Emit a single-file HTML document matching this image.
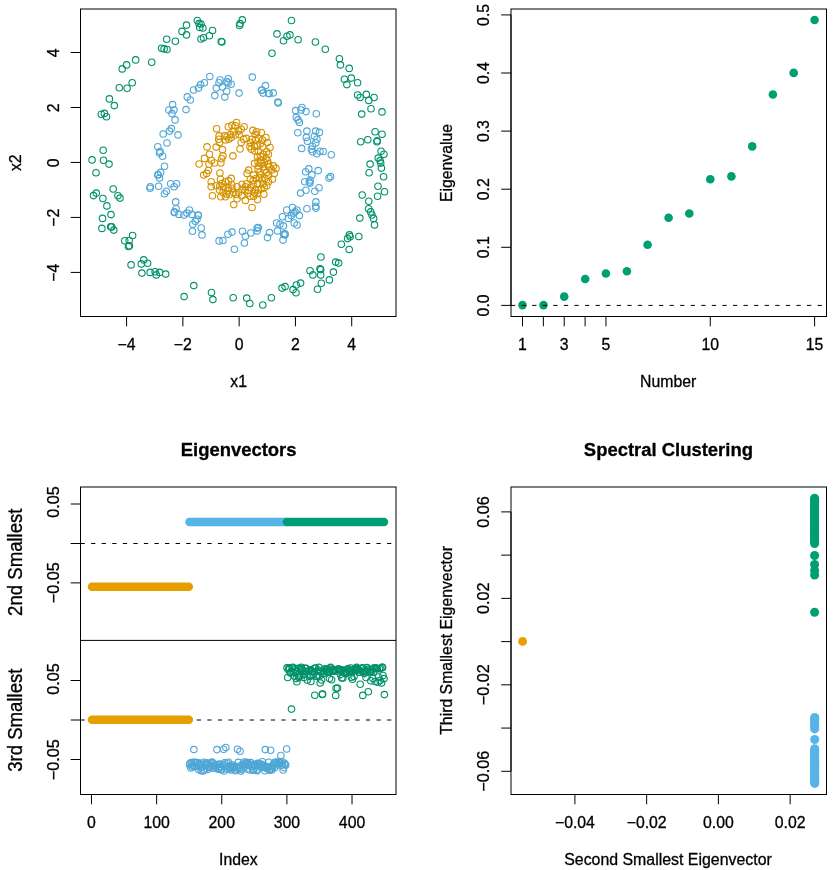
<!DOCTYPE html>
<html lang="en"><head><meta charset="utf-8"><title>Spectral Clustering</title>
<style>
html,body{margin:0;padding:0;background:#fff;}
svg{display:block;will-change:transform;font-family:"Liberation Sans",Arial,Helvetica,sans-serif;fill:#000;}
text{stroke:#000;stroke-width:0.3px;}
.ax{stroke:#000;stroke-width:1;}
.dash{stroke:#000;stroke-width:1;stroke-dasharray:4.3 6.27;}
</style></head><body>
<svg width="839" height="870" viewBox="0 0 839 870">
<rect x="0" y="0" width="839" height="870" fill="#fff"/>
<g id="p1">
<g fill="none" stroke-width="1.1">
<g stroke="#00916A">
<circle cx="166.7" cy="39.3" r="3.25"/>
<circle cx="175.4" cy="41.2" r="3.25"/>
<circle cx="182.0" cy="31.4" r="3.25"/>
<circle cx="161.6" cy="48.3" r="3.25"/>
<circle cx="164.1" cy="48.9" r="3.25"/>
<circle cx="167.0" cy="49.5" r="3.25"/>
<circle cx="135.7" cy="59.9" r="3.25"/>
<circle cx="151.7" cy="62.2" r="3.25"/>
<circle cx="126.6" cy="64.9" r="3.25"/>
<circle cx="122.2" cy="68.9" r="3.25"/>
<circle cx="132.2" cy="82.8" r="3.25"/>
<circle cx="119.3" cy="87.8" r="3.25"/>
<circle cx="127.1" cy="88.2" r="3.25"/>
<circle cx="109.4" cy="98.9" r="3.25"/>
<circle cx="114.3" cy="105.6" r="3.25"/>
<circle cx="186.5" cy="25.1" r="3.25"/>
<circle cx="186.5" cy="34.9" r="3.25"/>
<circle cx="197.3" cy="20.5" r="3.25"/>
<circle cx="199.0" cy="23.6" r="3.25"/>
<circle cx="201.0" cy="24.0" r="3.25"/>
<circle cx="199.8" cy="27.4" r="3.25"/>
<circle cx="202.9" cy="28.0" r="3.25"/>
<circle cx="212.5" cy="30.5" r="3.25"/>
<circle cx="209.4" cy="35.8" r="3.25"/>
<circle cx="201.0" cy="39.0" r="3.25"/>
<circle cx="203.5" cy="37.8" r="3.25"/>
<circle cx="221.3" cy="41.5" r="3.25"/>
<circle cx="221.9" cy="42.0" r="3.25"/>
<circle cx="242.3" cy="19.9" r="3.25"/>
<circle cx="240.1" cy="23.6" r="3.25"/>
<circle cx="239.6" cy="25.5" r="3.25"/>
<circle cx="277.0" cy="33.9" r="3.25"/>
<circle cx="272.0" cy="53.3" r="3.25"/>
<circle cx="283.5" cy="40.8" r="3.25"/>
<circle cx="287.0" cy="36.2" r="3.25"/>
<circle cx="289.9" cy="34.9" r="3.25"/>
<circle cx="291.5" cy="20.5" r="3.25"/>
<circle cx="298.1" cy="39.7" r="3.25"/>
<circle cx="315.4" cy="42.0" r="3.25"/>
<circle cx="325.3" cy="49.3" r="3.25"/>
<circle cx="339.4" cy="58.7" r="3.25"/>
<circle cx="340.4" cy="64.9" r="3.25"/>
<circle cx="349.2" cy="68.4" r="3.25"/>
<circle cx="344.4" cy="79.3" r="3.25"/>
<circle cx="351.3" cy="78.1" r="3.25"/>
<circle cx="346.9" cy="84.6" r="3.25"/>
<circle cx="357.6" cy="82.8" r="3.25"/>
<circle cx="357.6" cy="95.0" r="3.25"/>
<circle cx="360.1" cy="97.5" r="3.25"/>
<circle cx="366.3" cy="94.4" r="3.25"/>
<circle cx="368.8" cy="100.4" r="3.25"/>
<circle cx="374.1" cy="97.5" r="3.25"/>
<circle cx="371.0" cy="108.7" r="3.25"/>
<circle cx="382.0" cy="111.9" r="3.25"/>
<circle cx="361.7" cy="114.1" r="3.25"/>
<circle cx="101.3" cy="114.3" r="3.25"/>
<circle cx="104.4" cy="113.4" r="3.25"/>
<circle cx="106.5" cy="116.8" r="3.25"/>
<circle cx="103.2" cy="150.3" r="3.25"/>
<circle cx="92.1" cy="159.9" r="3.25"/>
<circle cx="103.5" cy="160.2" r="3.25"/>
<circle cx="109.0" cy="164.1" r="3.25"/>
<circle cx="96.0" cy="172.8" r="3.25"/>
<circle cx="113.2" cy="189.0" r="3.25"/>
<circle cx="96.3" cy="193.1" r="3.25"/>
<circle cx="93.5" cy="195.6" r="3.25"/>
<circle cx="102.9" cy="198.5" r="3.25"/>
<circle cx="117.9" cy="195.8" r="3.25"/>
<circle cx="120.0" cy="198.1" r="3.25"/>
<circle cx="106.9" cy="205.9" r="3.25"/>
<circle cx="111.0" cy="214.6" r="3.25"/>
<circle cx="102.5" cy="218.4" r="3.25"/>
<circle cx="375.1" cy="131.8" r="3.25"/>
<circle cx="382.0" cy="134.3" r="3.25"/>
<circle cx="360.7" cy="141.8" r="3.25"/>
<circle cx="367.8" cy="139.7" r="3.25"/>
<circle cx="377.0" cy="141.8" r="3.25"/>
<circle cx="377.2" cy="140.8" r="3.25"/>
<circle cx="381.1" cy="151.2" r="3.25"/>
<circle cx="383.9" cy="154.3" r="3.25"/>
<circle cx="378.2" cy="158.1" r="3.25"/>
<circle cx="380.1" cy="160.6" r="3.25"/>
<circle cx="380.7" cy="163.1" r="3.25"/>
<circle cx="381.4" cy="168.1" r="3.25"/>
<circle cx="370.1" cy="164.1" r="3.25"/>
<circle cx="369.1" cy="172.8" r="3.25"/>
<circle cx="383.6" cy="176.8" r="3.25"/>
<circle cx="378.0" cy="186.2" r="3.25"/>
<circle cx="384.5" cy="191.8" r="3.25"/>
<circle cx="377.6" cy="196.2" r="3.25"/>
<circle cx="362.2" cy="195.0" r="3.25"/>
<circle cx="368.8" cy="201.2" r="3.25"/>
<circle cx="368.6" cy="208.7" r="3.25"/>
<circle cx="370.7" cy="211.9" r="3.25"/>
<circle cx="372.0" cy="215.0" r="3.25"/>
<circle cx="359.8" cy="218.1" r="3.25"/>
<circle cx="373.6" cy="218.4" r="3.25"/>
<circle cx="101.9" cy="228.4" r="3.25"/>
<circle cx="110.7" cy="226.8" r="3.25"/>
<circle cx="113.8" cy="230.1" r="3.25"/>
<circle cx="132.6" cy="235.5" r="3.25"/>
<circle cx="124.7" cy="240.8" r="3.25"/>
<circle cx="129.2" cy="240.5" r="3.25"/>
<circle cx="129.4" cy="245.8" r="3.25"/>
<circle cx="143.8" cy="259.9" r="3.25"/>
<circle cx="141.3" cy="263.9" r="3.25"/>
<circle cx="147.6" cy="263.3" r="3.25"/>
<circle cx="131.1" cy="264.9" r="3.25"/>
<circle cx="141.9" cy="273.1" r="3.25"/>
<circle cx="150.1" cy="272.4" r="3.25"/>
<circle cx="155.1" cy="271.8" r="3.25"/>
<circle cx="159.5" cy="272.4" r="3.25"/>
<circle cx="156.3" cy="274.9" r="3.25"/>
<circle cx="165.7" cy="274.1" r="3.25"/>
<circle cx="184.1" cy="296.6" r="3.25"/>
<circle cx="193.8" cy="285.6" r="3.25"/>
<circle cx="211.5" cy="292.5" r="3.25"/>
<circle cx="212.9" cy="299.6" r="3.25"/>
<circle cx="233.2" cy="297.7" r="3.25"/>
<circle cx="246.7" cy="298.1" r="3.25"/>
<circle cx="249.8" cy="303.5" r="3.25"/>
<circle cx="262.8" cy="305.0" r="3.25"/>
<circle cx="271.4" cy="297.8" r="3.25"/>
<circle cx="282.0" cy="288.1" r="3.25"/>
<circle cx="285.1" cy="286.6" r="3.25"/>
<circle cx="374.5" cy="224.9" r="3.25"/>
<circle cx="358.8" cy="236.5" r="3.25"/>
<circle cx="349.4" cy="234.9" r="3.25"/>
<circle cx="350.1" cy="236.8" r="3.25"/>
<circle cx="347.6" cy="238.6" r="3.25"/>
<circle cx="341.3" cy="244.3" r="3.25"/>
<circle cx="349.2" cy="249.5" r="3.25"/>
<circle cx="320.9" cy="257.0" r="3.25"/>
<circle cx="335.7" cy="262.1" r="3.25"/>
<circle cx="338.6" cy="263.1" r="3.25"/>
<circle cx="310.0" cy="270.8" r="3.25"/>
<circle cx="312.9" cy="274.9" r="3.25"/>
<circle cx="320.0" cy="268.7" r="3.25"/>
<circle cx="320.7" cy="269.6" r="3.25"/>
<circle cx="320.7" cy="274.9" r="3.25"/>
<circle cx="333.4" cy="272.1" r="3.25"/>
<circle cx="329.4" cy="279.9" r="3.25"/>
<circle cx="321.3" cy="283.3" r="3.25"/>
<circle cx="317.5" cy="289.3" r="3.25"/>
<circle cx="300.6" cy="283.1" r="3.25"/>
<circle cx="296.3" cy="285.0" r="3.25"/>
<circle cx="293.1" cy="289.6" r="3.25"/>
<circle cx="296.0" cy="292.8" r="3.25"/>
<circle cx="128.5" cy="246.5" r="3.25"/>
<circle cx="111.7" cy="226.9" r="3.25"/>
</g>
<g stroke="#4FA6D6">
<circle cx="172.6" cy="104.6" r="3.25"/>
<circle cx="168.9" cy="110.0" r="3.25"/>
<circle cx="173.9" cy="110.0" r="3.25"/>
<circle cx="209.8" cy="76.5" r="3.25"/>
<circle cx="204.4" cy="82.8" r="3.25"/>
<circle cx="200.6" cy="84.6" r="3.25"/>
<circle cx="198.5" cy="88.1" r="3.25"/>
<circle cx="193.5" cy="90.0" r="3.25"/>
<circle cx="187.3" cy="96.9" r="3.25"/>
<circle cx="190.3" cy="100.0" r="3.25"/>
<circle cx="186.0" cy="109.6" r="3.25"/>
<circle cx="220.0" cy="80.0" r="3.25"/>
<circle cx="219.0" cy="82.8" r="3.25"/>
<circle cx="228.2" cy="78.7" r="3.25"/>
<circle cx="226.9" cy="81.8" r="3.25"/>
<circle cx="231.1" cy="84.3" r="3.25"/>
<circle cx="222.5" cy="87.1" r="3.25"/>
<circle cx="216.3" cy="88.1" r="3.25"/>
<circle cx="226.7" cy="91.2" r="3.25"/>
<circle cx="214.8" cy="95.6" r="3.25"/>
<circle cx="224.8" cy="97.1" r="3.25"/>
<circle cx="239.1" cy="93.1" r="3.25"/>
<circle cx="252.3" cy="77.1" r="3.25"/>
<circle cx="265.5" cy="85.6" r="3.25"/>
<circle cx="262.0" cy="90.0" r="3.25"/>
<circle cx="263.2" cy="93.1" r="3.25"/>
<circle cx="269.1" cy="93.7" r="3.25"/>
<circle cx="273.2" cy="92.9" r="3.25"/>
<circle cx="277.9" cy="102.1" r="3.25"/>
<circle cx="278.2" cy="102.9" r="3.25"/>
<circle cx="301.9" cy="107.5" r="3.25"/>
<circle cx="295.6" cy="110.6" r="3.25"/>
<circle cx="306.0" cy="111.6" r="3.25"/>
<circle cx="316.3" cy="113.8" r="3.25"/>
<circle cx="301.0" cy="110.0" r="3.25"/>
<circle cx="172.0" cy="113.6" r="3.25"/>
<circle cx="175.1" cy="119.9" r="3.25"/>
<circle cx="171.4" cy="128.6" r="3.25"/>
<circle cx="169.5" cy="131.1" r="3.25"/>
<circle cx="163.2" cy="134.0" r="3.25"/>
<circle cx="178.0" cy="134.9" r="3.25"/>
<circle cx="167.0" cy="143.0" r="3.25"/>
<circle cx="157.8" cy="146.8" r="3.25"/>
<circle cx="159.5" cy="153.0" r="3.25"/>
<circle cx="162.6" cy="156.2" r="3.25"/>
<circle cx="164.5" cy="166.2" r="3.25"/>
<circle cx="160.7" cy="172.4" r="3.25"/>
<circle cx="158.2" cy="174.9" r="3.25"/>
<circle cx="159.5" cy="178.1" r="3.25"/>
<circle cx="150.3" cy="186.8" r="3.25"/>
<circle cx="158.6" cy="186.2" r="3.25"/>
<circle cx="170.7" cy="183.7" r="3.25"/>
<circle cx="176.6" cy="183.7" r="3.25"/>
<circle cx="174.1" cy="186.8" r="3.25"/>
<circle cx="166.4" cy="191.2" r="3.25"/>
<circle cx="164.5" cy="193.7" r="3.25"/>
<circle cx="175.7" cy="201.9" r="3.25"/>
<circle cx="176.1" cy="208.7" r="3.25"/>
<circle cx="174.5" cy="211.9" r="3.25"/>
<circle cx="178.9" cy="214.4" r="3.25"/>
<circle cx="183.9" cy="215.0" r="3.25"/>
<circle cx="296.3" cy="117.4" r="3.25"/>
<circle cx="298.1" cy="119.9" r="3.25"/>
<circle cx="299.4" cy="122.4" r="3.25"/>
<circle cx="297.8" cy="132.8" r="3.25"/>
<circle cx="306.9" cy="131.1" r="3.25"/>
<circle cx="315.7" cy="131.1" r="3.25"/>
<circle cx="319.4" cy="132.4" r="3.25"/>
<circle cx="306.3" cy="137.4" r="3.25"/>
<circle cx="307.5" cy="141.2" r="3.25"/>
<circle cx="314.4" cy="136.2" r="3.25"/>
<circle cx="316.9" cy="139.3" r="3.25"/>
<circle cx="315.7" cy="143.0" r="3.25"/>
<circle cx="312.5" cy="146.2" r="3.25"/>
<circle cx="301.6" cy="148.4" r="3.25"/>
<circle cx="311.3" cy="149.3" r="3.25"/>
<circle cx="312.5" cy="151.8" r="3.25"/>
<circle cx="316.9" cy="153.7" r="3.25"/>
<circle cx="320.0" cy="151.2" r="3.25"/>
<circle cx="323.2" cy="151.5" r="3.25"/>
<circle cx="331.3" cy="154.7" r="3.25"/>
<circle cx="308.8" cy="168.9" r="3.25"/>
<circle cx="305.6" cy="171.8" r="3.25"/>
<circle cx="318.2" cy="170.6" r="3.25"/>
<circle cx="311.9" cy="174.9" r="3.25"/>
<circle cx="329.0" cy="178.1" r="3.25"/>
<circle cx="310.0" cy="180.0" r="3.25"/>
<circle cx="304.8" cy="181.8" r="3.25"/>
<circle cx="310.0" cy="183.1" r="3.25"/>
<circle cx="319.0" cy="187.7" r="3.25"/>
<circle cx="306.0" cy="190.2" r="3.25"/>
<circle cx="314.8" cy="191.2" r="3.25"/>
<circle cx="300.6" cy="193.1" r="3.25"/>
<circle cx="315.9" cy="201.9" r="3.25"/>
<circle cx="315.7" cy="206.2" r="3.25"/>
<circle cx="315.9" cy="208.1" r="3.25"/>
<circle cx="306.9" cy="208.7" r="3.25"/>
<circle cx="292.5" cy="207.5" r="3.25"/>
<circle cx="296.9" cy="210.0" r="3.25"/>
<circle cx="293.8" cy="213.1" r="3.25"/>
<circle cx="299.4" cy="215.6" r="3.25"/>
<circle cx="291.3" cy="215.6" r="3.25"/>
<circle cx="189.4" cy="210.0" r="3.25"/>
<circle cx="186.9" cy="213.1" r="3.25"/>
<circle cx="191.9" cy="214.4" r="3.25"/>
<circle cx="198.1" cy="215.0" r="3.25"/>
<circle cx="286.7" cy="210.0" r="3.25"/>
<circle cx="288.4" cy="218.4" r="3.25"/>
<circle cx="282.5" cy="216.7" r="3.25"/>
<circle cx="294.2" cy="223.0" r="3.25"/>
<circle cx="297.1" cy="225.0" r="3.25"/>
<circle cx="276.7" cy="223.0" r="3.25"/>
<circle cx="280.0" cy="224.2" r="3.25"/>
<circle cx="283.4" cy="225.9" r="3.25"/>
<circle cx="277.5" cy="230.9" r="3.25"/>
<circle cx="285.0" cy="233.8" r="3.25"/>
<circle cx="269.6" cy="232.6" r="3.25"/>
<circle cx="267.5" cy="237.6" r="3.25"/>
<circle cx="283.0" cy="240.1" r="3.25"/>
<circle cx="258.3" cy="227.5" r="3.25"/>
<circle cx="257.1" cy="230.9" r="3.25"/>
<circle cx="250.8" cy="233.0" r="3.25"/>
<circle cx="198.3" cy="215.5" r="3.25"/>
<circle cx="197.0" cy="219.2" r="3.25"/>
<circle cx="195.3" cy="221.3" r="3.25"/>
<circle cx="192.8" cy="224.2" r="3.25"/>
<circle cx="201.2" cy="228.0" r="3.25"/>
<circle cx="192.4" cy="231.3" r="3.25"/>
<circle cx="202.0" cy="234.9" r="3.25"/>
<circle cx="219.1" cy="240.9" r="3.25"/>
<circle cx="222.9" cy="240.5" r="3.25"/>
<circle cx="227.9" cy="234.2" r="3.25"/>
<circle cx="232.0" cy="232.1" r="3.25"/>
<circle cx="242.5" cy="231.3" r="3.25"/>
<circle cx="245.4" cy="236.3" r="3.25"/>
<circle cx="244.4" cy="243.0" r="3.25"/>
<circle cx="234.4" cy="249.2" r="3.25"/>
<circle cx="157.8" cy="174.7" r="3.25"/>
<circle cx="174.3" cy="212.5" r="3.25"/>
<circle cx="309.3" cy="182.1" r="3.25"/>
<circle cx="295.1" cy="211.7" r="3.25"/>
<circle cx="160.1" cy="151.6" r="3.25"/>
<circle cx="257.1" cy="228.1" r="3.25"/>
<circle cx="261.4" cy="90.3" r="3.25"/>
<circle cx="228.1" cy="83.0" r="3.25"/>
<circle cx="284.9" cy="234.9" r="3.25"/>
<circle cx="330.5" cy="176.6" r="3.25"/>
<circle cx="150.0" cy="188.2" r="3.25"/>
<circle cx="268.6" cy="93.2" r="3.25"/>
<circle cx="283.7" cy="234.2" r="3.25"/>
</g>
<g stroke="#D49200">
<circle cx="216.6" cy="128.8" r="3.25"/>
<circle cx="207.0" cy="146.9" r="3.25"/>
<circle cx="199.1" cy="164.0" r="3.25"/>
<circle cx="204.5" cy="158.4" r="3.25"/>
<circle cx="209.5" cy="154.2" r="3.25"/>
<circle cx="211.6" cy="160.5" r="3.25"/>
<circle cx="209.1" cy="164.2" r="3.25"/>
<circle cx="214.5" cy="163.0" r="3.25"/>
<circle cx="208.3" cy="170.5" r="3.25"/>
<circle cx="203.7" cy="175.1" r="3.25"/>
<circle cx="206.6" cy="173.4" r="3.25"/>
<circle cx="219.9" cy="173.0" r="3.25"/>
<circle cx="220.4" cy="179.2" r="3.25"/>
<circle cx="211.2" cy="181.7" r="3.25"/>
<circle cx="232.9" cy="155.9" r="3.25"/>
<circle cx="240.0" cy="149.0" r="3.25"/>
<circle cx="222.5" cy="149.6" r="3.25"/>
<circle cx="216.2" cy="147.1" r="3.25"/>
<circle cx="220.8" cy="163.0" r="3.25"/>
<circle cx="221.6" cy="158.8" r="3.25"/>
<circle cx="222.9" cy="155.9" r="3.25"/>
<circle cx="219.1" cy="135.9" r="3.25"/>
<circle cx="218.7" cy="139.2" r="3.25"/>
<circle cx="219.5" cy="142.5" r="3.25"/>
<circle cx="228.3" cy="126.7" r="3.25"/>
<circle cx="232.0" cy="125.4" r="3.25"/>
<circle cx="236.6" cy="122.5" r="3.25"/>
<circle cx="235.4" cy="125.8" r="3.25"/>
<circle cx="244.1" cy="126.7" r="3.25"/>
<circle cx="241.2" cy="129.2" r="3.25"/>
<circle cx="238.3" cy="130.9" r="3.25"/>
<circle cx="233.7" cy="131.7" r="3.25"/>
<circle cx="230.4" cy="134.6" r="3.25"/>
<circle cx="227.0" cy="136.7" r="3.25"/>
<circle cx="228.7" cy="139.2" r="3.25"/>
<circle cx="225.4" cy="140.0" r="3.25"/>
<circle cx="231.2" cy="137.5" r="3.25"/>
<circle cx="224.5" cy="135.9" r="3.25"/>
<circle cx="235.4" cy="135.0" r="3.25"/>
<circle cx="239.1" cy="134.6" r="3.25"/>
<circle cx="252.9" cy="130.4" r="3.25"/>
<circle cx="243.7" cy="139.2" r="3.25"/>
<circle cx="241.2" cy="142.5" r="3.25"/>
<circle cx="246.2" cy="138.4" r="3.25"/>
<circle cx="250.4" cy="142.5" r="3.25"/>
<circle cx="252.1" cy="139.2" r="3.25"/>
<circle cx="255.4" cy="140.0" r="3.25"/>
<circle cx="251.2" cy="149.2" r="3.25"/>
<circle cx="254.6" cy="150.9" r="3.25"/>
<circle cx="254.6" cy="163.4" r="3.25"/>
<circle cx="248.7" cy="170.1" r="3.25"/>
<circle cx="247.1" cy="173.4" r="3.25"/>
<circle cx="253.7" cy="175.1" r="3.25"/>
<circle cx="250.4" cy="179.2" r="3.25"/>
<circle cx="231.2" cy="178.4" r="3.25"/>
<circle cx="228.7" cy="180.9" r="3.25"/>
<circle cx="225.4" cy="181.7" r="3.25"/>
<circle cx="242.1" cy="184.2" r="3.25"/>
<circle cx="261.3" cy="132.5" r="3.25"/>
<circle cx="256.7" cy="131.7" r="3.25"/>
<circle cx="265.9" cy="137.5" r="3.25"/>
<circle cx="270.0" cy="147.5" r="3.25"/>
<circle cx="267.5" cy="142.5" r="3.25"/>
<circle cx="262.5" cy="140.0" r="3.25"/>
<circle cx="258.3" cy="138.4" r="3.25"/>
<circle cx="257.5" cy="145.9" r="3.25"/>
<circle cx="262.5" cy="146.7" r="3.25"/>
<circle cx="266.7" cy="151.7" r="3.25"/>
<circle cx="258.3" cy="151.7" r="3.25"/>
<circle cx="263.3" cy="154.2" r="3.25"/>
<circle cx="257.5" cy="156.7" r="3.25"/>
<circle cx="268.4" cy="154.2" r="3.25"/>
<circle cx="265.9" cy="158.4" r="3.25"/>
<circle cx="260.8" cy="160.1" r="3.25"/>
<circle cx="258.3" cy="165.9" r="3.25"/>
<circle cx="263.3" cy="166.7" r="3.25"/>
<circle cx="273.4" cy="165.9" r="3.25"/>
<circle cx="275.9" cy="168.4" r="3.25"/>
<circle cx="271.7" cy="170.1" r="3.25"/>
<circle cx="269.2" cy="166.7" r="3.25"/>
<circle cx="266.7" cy="172.6" r="3.25"/>
<circle cx="274.2" cy="173.4" r="3.25"/>
<circle cx="260.0" cy="171.7" r="3.25"/>
<circle cx="259.2" cy="177.6" r="3.25"/>
<circle cx="265.0" cy="178.4" r="3.25"/>
<circle cx="272.5" cy="179.2" r="3.25"/>
<circle cx="268.4" cy="181.7" r="3.25"/>
<circle cx="257.5" cy="183.4" r="3.25"/>
<circle cx="212.4" cy="195.8" r="3.25"/>
<circle cx="211.2" cy="186.7" r="3.25"/>
<circle cx="219.5" cy="190.0" r="3.25"/>
<circle cx="220.8" cy="196.7" r="3.25"/>
<circle cx="225.4" cy="196.7" r="3.25"/>
<circle cx="222.9" cy="192.5" r="3.25"/>
<circle cx="227.9" cy="190.8" r="3.25"/>
<circle cx="232.0" cy="188.3" r="3.25"/>
<circle cx="233.7" cy="192.5" r="3.25"/>
<circle cx="237.1" cy="198.8" r="3.25"/>
<circle cx="233.7" cy="204.6" r="3.25"/>
<circle cx="238.7" cy="192.5" r="3.25"/>
<circle cx="242.1" cy="189.2" r="3.25"/>
<circle cx="245.4" cy="200.4" r="3.25"/>
<circle cx="247.9" cy="193.3" r="3.25"/>
<circle cx="252.1" cy="207.5" r="3.25"/>
<circle cx="255.4" cy="190.0" r="3.25"/>
<circle cx="250.4" cy="187.5" r="3.25"/>
<circle cx="216.2" cy="185.8" r="3.25"/>
<circle cx="237.1" cy="186.7" r="3.25"/>
<circle cx="245.4" cy="186.7" r="3.25"/>
<circle cx="263.8" cy="194.2" r="3.25"/>
<circle cx="257.5" cy="199.6" r="3.25"/>
<circle cx="258.3" cy="190.0" r="3.25"/>
<circle cx="264.2" cy="187.5" r="3.25"/>
<circle cx="245.1" cy="190.6" r="3.25"/>
<circle cx="253.3" cy="180.5" r="3.25"/>
<circle cx="261.1" cy="188.9" r="3.25"/>
<circle cx="263.1" cy="183.9" r="3.25"/>
<circle cx="246.8" cy="183.7" r="3.25"/>
<circle cx="253.6" cy="196.3" r="3.25"/>
<circle cx="268.5" cy="175.6" r="3.25"/>
<circle cx="253.1" cy="184.3" r="3.25"/>
<circle cx="266.8" cy="185.8" r="3.25"/>
<circle cx="264.2" cy="170.1" r="3.25"/>
<circle cx="261.8" cy="179.7" r="3.25"/>
<circle cx="268.4" cy="163.9" r="3.25"/>
<circle cx="260.7" cy="175.0" r="3.25"/>
<circle cx="256.1" cy="178.5" r="3.25"/>
<circle cx="254.5" cy="193.1" r="3.25"/>
<circle cx="250.1" cy="196.2" r="3.25"/>
<circle cx="260.9" cy="163.2" r="3.25"/>
<circle cx="257.6" cy="193.0" r="3.25"/>
<circle cx="248.2" cy="190.4" r="3.25"/>
<circle cx="258.1" cy="169.1" r="3.25"/>
<circle cx="241.7" cy="195.7" r="3.25"/>
<circle cx="223.7" cy="187.0" r="3.25"/>
<circle cx="221.9" cy="183.5" r="3.25"/>
<circle cx="231.8" cy="184.8" r="3.25"/>
<circle cx="219.8" cy="186.1" r="3.25"/>
<circle cx="228.3" cy="187.9" r="3.25"/>
<circle cx="226.5" cy="193.9" r="3.25"/>
<circle cx="229.5" cy="194.2" r="3.25"/>
<circle cx="236.1" cy="194.5" r="3.25"/>
<circle cx="267.5" cy="160.8" r="3.25"/>
<circle cx="249.9" cy="146.6" r="3.25"/>
<circle cx="255.2" cy="134.6" r="3.25"/>
<circle cx="260.5" cy="156.4" r="3.25"/>
<circle cx="254.4" cy="146.3" r="3.25"/>
<circle cx="264.3" cy="162.4" r="3.25"/>
<circle cx="258.0" cy="161.8" r="3.25"/>
<circle cx="260.2" cy="144.1" r="3.25"/>
</g>
</g>
<rect x="80.50" y="9.00" width="315.50" height="307.50" fill="none" stroke="#000" stroke-width="1"/>
<line x1="126.59" y1="316.50" x2="351.71" y2="316.50" class="ax"/>
<line x1="126.59" y1="316.50" x2="126.59" y2="326.30" class="ax"/>
<line x1="182.87" y1="316.50" x2="182.87" y2="326.30" class="ax"/>
<line x1="239.15" y1="316.50" x2="239.15" y2="326.30" class="ax"/>
<line x1="295.43" y1="316.50" x2="295.43" y2="326.30" class="ax"/>
<line x1="351.71" y1="316.50" x2="351.71" y2="326.30" class="ax"/>
<text transform="translate(126.59 349.70) scale(1 0.99)" text-anchor="middle" font-size="15.8">−4</text>
<text transform="translate(182.87 349.70) scale(1 0.99)" text-anchor="middle" font-size="15.8">−2</text>
<text transform="translate(239.15 349.70) scale(1 0.99)" text-anchor="middle" font-size="15.8">0</text>
<text transform="translate(295.43 349.70) scale(1 0.99)" text-anchor="middle" font-size="15.8">2</text>
<text transform="translate(351.71 349.70) scale(1 0.99)" text-anchor="middle" font-size="15.8">4</text>
<line x1="80.50" y1="52.49" x2="80.50" y2="272.41" class="ax"/>
<line x1="70.70" y1="272.41" x2="80.50" y2="272.41" class="ax"/>
<line x1="70.70" y1="217.43" x2="80.50" y2="217.43" class="ax"/>
<line x1="70.70" y1="162.45" x2="80.50" y2="162.45" class="ax"/>
<line x1="70.70" y1="107.47" x2="80.50" y2="107.47" class="ax"/>
<line x1="70.70" y1="52.49" x2="80.50" y2="52.49" class="ax"/>
<text transform="translate(58.80 272.71) rotate(-90) scale(1 1.0)" text-anchor="middle" font-size="15.8">−4</text>
<text transform="translate(58.80 217.73) rotate(-90) scale(1 1.0)" text-anchor="middle" font-size="15.8">−2</text>
<text transform="translate(58.80 162.75) rotate(-90) scale(1 1.0)" text-anchor="middle" font-size="15.8">0</text>
<text transform="translate(58.80 107.77) rotate(-90) scale(1 1.0)" text-anchor="middle" font-size="15.8">2</text>
<text transform="translate(58.80 52.79) rotate(-90) scale(1 1.0)" text-anchor="middle" font-size="15.8">4</text>
<text transform="translate(238.60 386.80) scale(1 0.99)" text-anchor="middle" font-size="15.8">x1</text>
<text transform="translate(20.90 162.70) rotate(-90) scale(1 1.0)" text-anchor="middle" font-size="15.8">x2</text>
</g>
<g id="p2">
<g fill="#009E73">
<circle cx="522.5" cy="305.1" r="4.3"/>
<circle cx="543.5" cy="305.1" r="4.3"/>
<circle cx="564.2" cy="296.6" r="4.3"/>
<circle cx="585.2" cy="279.0" r="4.3"/>
<circle cx="605.9" cy="273.5" r="4.3"/>
<circle cx="626.9" cy="271.2" r="4.3"/>
<circle cx="647.6" cy="244.7" r="4.3"/>
<circle cx="668.6" cy="217.7" r="4.3"/>
<circle cx="689.3" cy="213.5" r="4.3"/>
<circle cx="710.3" cy="179.2" r="4.3"/>
<circle cx="731.4" cy="176.4" r="4.3"/>
<circle cx="752.2" cy="146.4" r="4.3"/>
<circle cx="772.9" cy="94.5" r="4.3"/>
<circle cx="793.7" cy="72.9" r="4.3"/>
<circle cx="814.6" cy="20.0" r="4.3"/>
</g>
<line x1="511.00" y1="305.40" x2="826.50" y2="305.40" class="dash"/>
<rect x="511.00" y="9.00" width="315.50" height="307.50" fill="none" stroke="#000" stroke-width="1"/>
<line x1="522.50" y1="316.50" x2="814.61" y2="316.50" class="ax"/>
<line x1="522.50" y1="316.50" x2="522.50" y2="326.30" class="ax"/>
<line x1="543.37" y1="316.50" x2="543.37" y2="326.30" class="ax"/>
<line x1="564.23" y1="316.50" x2="564.23" y2="326.30" class="ax"/>
<line x1="585.10" y1="316.50" x2="585.10" y2="326.30" class="ax"/>
<line x1="605.96" y1="316.50" x2="605.96" y2="326.30" class="ax"/>
<line x1="710.28" y1="316.50" x2="710.28" y2="326.30" class="ax"/>
<line x1="814.61" y1="316.50" x2="814.61" y2="326.30" class="ax"/>
<text transform="translate(522.50 349.70) scale(1 0.99)" text-anchor="middle" font-size="15.8">1</text>
<text transform="translate(564.23 349.70) scale(1 0.99)" text-anchor="middle" font-size="15.8">3</text>
<text transform="translate(605.96 349.70) scale(1 0.99)" text-anchor="middle" font-size="15.8">5</text>
<text transform="translate(710.28 349.70) scale(1 0.99)" text-anchor="middle" font-size="15.8">10</text>
<text transform="translate(814.61 349.70) scale(1 0.99)" text-anchor="middle" font-size="15.8">15</text>
<line x1="511.00" y1="14.90" x2="511.00" y2="305.40" class="ax"/>
<line x1="501.20" y1="305.40" x2="511.00" y2="305.40" class="ax"/>
<line x1="501.20" y1="247.30" x2="511.00" y2="247.30" class="ax"/>
<line x1="501.20" y1="189.20" x2="511.00" y2="189.20" class="ax"/>
<line x1="501.20" y1="131.10" x2="511.00" y2="131.10" class="ax"/>
<line x1="501.20" y1="73.00" x2="511.00" y2="73.00" class="ax"/>
<line x1="501.20" y1="14.90" x2="511.00" y2="14.90" class="ax"/>
<text transform="translate(489.00 305.40) rotate(-90) scale(1 1.0)" text-anchor="middle" font-size="15.8">0.0</text>
<text transform="translate(489.00 247.30) rotate(-90) scale(1 1.0)" text-anchor="middle" font-size="15.8">0.1</text>
<text transform="translate(489.00 189.20) rotate(-90) scale(1 1.0)" text-anchor="middle" font-size="15.8">0.2</text>
<text transform="translate(489.00 131.10) rotate(-90) scale(1 1.0)" text-anchor="middle" font-size="15.8">0.3</text>
<text transform="translate(489.00 73.00) rotate(-90) scale(1 1.0)" text-anchor="middle" font-size="15.8">0.4</text>
<text transform="translate(489.00 14.90) rotate(-90) scale(1 1.0)" text-anchor="middle" font-size="15.8">0.5</text>
<text transform="translate(668.20 386.70) scale(1 0.99)" text-anchor="middle" font-size="15.8">Number</text>
<text transform="translate(452.00 163.00) rotate(-90) scale(1 1.0)" text-anchor="middle" font-size="15.8">Eigenvalue</text>
</g>
<g id="p3">
<line x1="80.50" y1="543.50" x2="396.00" y2="543.50" class="dash"/>
<g stroke-width="8.6" stroke-linecap="round">
<line x1="92.0" y1="586.7" x2="188.8" y2="586.7" stroke="#E69F00"/>
<line x1="189.5" y1="522" x2="286.4" y2="522" stroke="#56B4E9"/>
<line x1="287.0" y1="522" x2="383.9" y2="522" stroke="#009E73"/>
</g>
<line x1="80.50" y1="640.40" x2="396.00" y2="640.40" class="ax"/>
<line x1="80.50" y1="720.00" x2="396.00" y2="720.00" class="dash"/>
<line x1="92.0" y1="719.8" x2="188.8" y2="719.8" stroke="#E69F00" stroke-width="8.6" stroke-linecap="round"/>
<g fill="none" stroke-width="1.1">
<g stroke="#4FA6D6">
<circle cx="193.9" cy="749.6" r="3.25"/>
<circle cx="216.9" cy="749.6" r="3.25"/>
<circle cx="223.6" cy="749.3" r="3.25"/>
<circle cx="225.8" cy="747.5" r="3.25"/>
<circle cx="237.5" cy="749.3" r="3.25"/>
<circle cx="240.1" cy="751.2" r="3.25"/>
<circle cx="265.3" cy="749.6" r="3.25"/>
<circle cx="270.6" cy="750.3" r="3.25"/>
<circle cx="286.6" cy="749.0" r="3.25"/>
<circle cx="280.9" cy="755.5" r="3.25"/>
<circle cx="189.5" cy="764.8" r="3.25"/>
<circle cx="190.1" cy="763.2" r="3.25"/>
<circle cx="190.8" cy="767.9" r="3.25"/>
<circle cx="191.4" cy="762.5" r="3.25"/>
<circle cx="192.1" cy="766.8" r="3.25"/>
<circle cx="192.7" cy="765.2" r="3.25"/>
<circle cx="193.4" cy="762.3" r="3.25"/>
<circle cx="194.7" cy="766.6" r="3.25"/>
<circle cx="195.3" cy="762.2" r="3.25"/>
<circle cx="196.0" cy="765.9" r="3.25"/>
<circle cx="196.6" cy="762.5" r="3.25"/>
<circle cx="197.3" cy="762.7" r="3.25"/>
<circle cx="197.9" cy="765.8" r="3.25"/>
<circle cx="198.6" cy="769.6" r="3.25"/>
<circle cx="199.2" cy="763.0" r="3.25"/>
<circle cx="199.9" cy="763.9" r="3.25"/>
<circle cx="200.6" cy="767.7" r="3.25"/>
<circle cx="201.2" cy="770.7" r="3.25"/>
<circle cx="201.9" cy="767.2" r="3.25"/>
<circle cx="202.5" cy="765.5" r="3.25"/>
<circle cx="203.2" cy="771.0" r="3.25"/>
<circle cx="203.8" cy="762.2" r="3.25"/>
<circle cx="204.5" cy="769.9" r="3.25"/>
<circle cx="205.1" cy="764.5" r="3.25"/>
<circle cx="205.8" cy="763.2" r="3.25"/>
<circle cx="206.4" cy="762.9" r="3.25"/>
<circle cx="207.1" cy="764.7" r="3.25"/>
<circle cx="207.7" cy="769.5" r="3.25"/>
<circle cx="208.4" cy="763.5" r="3.25"/>
<circle cx="209.0" cy="767.3" r="3.25"/>
<circle cx="209.7" cy="767.8" r="3.25"/>
<circle cx="210.3" cy="765.3" r="3.25"/>
<circle cx="211.0" cy="766.9" r="3.25"/>
<circle cx="211.6" cy="762.4" r="3.25"/>
<circle cx="212.3" cy="762.4" r="3.25"/>
<circle cx="212.9" cy="763.7" r="3.25"/>
<circle cx="213.6" cy="768.2" r="3.25"/>
<circle cx="214.2" cy="765.8" r="3.25"/>
<circle cx="214.9" cy="764.8" r="3.25"/>
<circle cx="215.5" cy="767.3" r="3.25"/>
<circle cx="216.2" cy="766.1" r="3.25"/>
<circle cx="217.5" cy="764.6" r="3.25"/>
<circle cx="218.1" cy="769.3" r="3.25"/>
<circle cx="218.8" cy="768.4" r="3.25"/>
<circle cx="219.4" cy="764.1" r="3.25"/>
<circle cx="220.1" cy="767.2" r="3.25"/>
<circle cx="220.7" cy="766.7" r="3.25"/>
<circle cx="221.4" cy="770.0" r="3.25"/>
<circle cx="222.0" cy="768.7" r="3.25"/>
<circle cx="222.7" cy="764.5" r="3.25"/>
<circle cx="224.0" cy="771.0" r="3.25"/>
<circle cx="224.6" cy="762.9" r="3.25"/>
<circle cx="225.3" cy="765.7" r="3.25"/>
<circle cx="226.6" cy="768.9" r="3.25"/>
<circle cx="227.2" cy="763.2" r="3.25"/>
<circle cx="227.9" cy="766.4" r="3.25"/>
<circle cx="228.5" cy="762.2" r="3.25"/>
<circle cx="229.2" cy="768.1" r="3.25"/>
<circle cx="229.8" cy="769.0" r="3.25"/>
<circle cx="230.5" cy="767.2" r="3.25"/>
<circle cx="231.1" cy="770.0" r="3.25"/>
<circle cx="231.8" cy="764.7" r="3.25"/>
<circle cx="232.4" cy="768.3" r="3.25"/>
<circle cx="233.1" cy="767.4" r="3.25"/>
<circle cx="233.7" cy="767.3" r="3.25"/>
<circle cx="234.4" cy="766.1" r="3.25"/>
<circle cx="235.0" cy="769.7" r="3.25"/>
<circle cx="235.7" cy="770.7" r="3.25"/>
<circle cx="236.3" cy="766.3" r="3.25"/>
<circle cx="237.0" cy="768.0" r="3.25"/>
<circle cx="238.3" cy="762.4" r="3.25"/>
<circle cx="238.9" cy="768.4" r="3.25"/>
<circle cx="239.6" cy="767.9" r="3.25"/>
<circle cx="240.9" cy="771.1" r="3.25"/>
<circle cx="241.5" cy="769.5" r="3.25"/>
<circle cx="242.2" cy="764.5" r="3.25"/>
<circle cx="242.8" cy="765.4" r="3.25"/>
<circle cx="243.5" cy="768.1" r="3.25"/>
<circle cx="244.1" cy="762.0" r="3.25"/>
<circle cx="244.8" cy="766.1" r="3.25"/>
<circle cx="245.4" cy="763.4" r="3.25"/>
<circle cx="246.1" cy="762.9" r="3.25"/>
<circle cx="246.7" cy="762.4" r="3.25"/>
<circle cx="247.4" cy="769.0" r="3.25"/>
<circle cx="248.0" cy="763.0" r="3.25"/>
<circle cx="248.7" cy="764.1" r="3.25"/>
<circle cx="249.3" cy="765.5" r="3.25"/>
<circle cx="250.0" cy="770.0" r="3.25"/>
<circle cx="250.6" cy="762.6" r="3.25"/>
<circle cx="251.3" cy="766.0" r="3.25"/>
<circle cx="251.9" cy="767.0" r="3.25"/>
<circle cx="252.6" cy="770.1" r="3.25"/>
<circle cx="253.2" cy="769.5" r="3.25"/>
<circle cx="253.9" cy="769.9" r="3.25"/>
<circle cx="254.5" cy="764.4" r="3.25"/>
<circle cx="255.2" cy="765.7" r="3.25"/>
<circle cx="255.8" cy="765.2" r="3.25"/>
<circle cx="256.5" cy="770.1" r="3.25"/>
<circle cx="257.1" cy="770.8" r="3.25"/>
<circle cx="257.8" cy="763.2" r="3.25"/>
<circle cx="258.4" cy="763.5" r="3.25"/>
<circle cx="259.1" cy="764.0" r="3.25"/>
<circle cx="259.7" cy="764.0" r="3.25"/>
<circle cx="260.4" cy="766.4" r="3.25"/>
<circle cx="261.0" cy="767.3" r="3.25"/>
<circle cx="261.7" cy="764.3" r="3.25"/>
<circle cx="262.3" cy="761.8" r="3.25"/>
<circle cx="263.0" cy="765.7" r="3.25"/>
<circle cx="263.6" cy="765.3" r="3.25"/>
<circle cx="264.3" cy="767.1" r="3.25"/>
<circle cx="264.9" cy="770.8" r="3.25"/>
<circle cx="266.2" cy="768.3" r="3.25"/>
<circle cx="266.9" cy="766.6" r="3.25"/>
<circle cx="267.5" cy="767.6" r="3.25"/>
<circle cx="268.2" cy="768.2" r="3.25"/>
<circle cx="268.8" cy="762.3" r="3.25"/>
<circle cx="269.5" cy="770.3" r="3.25"/>
<circle cx="270.1" cy="769.1" r="3.25"/>
<circle cx="271.4" cy="770.0" r="3.25"/>
<circle cx="272.1" cy="769.3" r="3.25"/>
<circle cx="272.7" cy="765.5" r="3.25"/>
<circle cx="273.4" cy="765.6" r="3.25"/>
<circle cx="274.0" cy="762.8" r="3.25"/>
<circle cx="274.7" cy="767.8" r="3.25"/>
<circle cx="275.3" cy="762.4" r="3.25"/>
<circle cx="276.0" cy="762.4" r="3.25"/>
<circle cx="276.6" cy="763.8" r="3.25"/>
<circle cx="277.3" cy="763.3" r="3.25"/>
<circle cx="277.9" cy="765.0" r="3.25"/>
<circle cx="278.6" cy="762.3" r="3.25"/>
<circle cx="279.2" cy="761.8" r="3.25"/>
<circle cx="279.9" cy="763.2" r="3.25"/>
<circle cx="280.5" cy="762.8" r="3.25"/>
<circle cx="281.8" cy="765.2" r="3.25"/>
<circle cx="282.5" cy="762.0" r="3.25"/>
<circle cx="283.1" cy="770.0" r="3.25"/>
<circle cx="283.8" cy="767.6" r="3.25"/>
<circle cx="284.4" cy="763.2" r="3.25"/>
<circle cx="285.1" cy="764.2" r="3.25"/>
<circle cx="285.7" cy="765.1" r="3.25"/>
</g>
<g stroke="#00916A">
<circle cx="291.5" cy="709.1" r="3.25"/>
<circle cx="314.8" cy="695.3" r="3.25"/>
<circle cx="322.3" cy="694.4" r="3.25"/>
<circle cx="322.6" cy="694.1" r="3.25"/>
<circle cx="335.7" cy="695.5" r="3.25"/>
<circle cx="337.5" cy="688.1" r="3.25"/>
<circle cx="362.8" cy="695.4" r="3.25"/>
<circle cx="368.3" cy="691.7" r="3.25"/>
<circle cx="384.4" cy="694.6" r="3.25"/>
<circle cx="360.2" cy="684.3" r="3.25"/>
<circle cx="336.1" cy="688.3" r="3.25"/>
<circle cx="296.2" cy="678.6" r="3.25"/>
<circle cx="296.9" cy="681.8" r="3.25"/>
<circle cx="307.3" cy="680.0" r="3.25"/>
<circle cx="310.9" cy="681.5" r="3.25"/>
<circle cx="320.2" cy="682.9" r="3.25"/>
<circle cx="321.6" cy="680.0" r="3.25"/>
<circle cx="331.6" cy="679.7" r="3.25"/>
<circle cx="329.5" cy="678.6" r="3.25"/>
<circle cx="341.7" cy="677.9" r="3.25"/>
<circle cx="342.9" cy="677.9" r="3.25"/>
<circle cx="352.5" cy="679.3" r="3.25"/>
<circle cx="377.9" cy="682.2" r="3.25"/>
<circle cx="381.5" cy="682.9" r="3.25"/>
<circle cx="384.0" cy="678.6" r="3.25"/>
<circle cx="375.1" cy="681.5" r="3.25"/>
<circle cx="370.8" cy="680.8" r="3.25"/>
<circle cx="380.1" cy="680.5" r="3.25"/>
<circle cx="373.0" cy="678.5" r="3.25"/>
<circle cx="366.0" cy="677.5" r="3.25"/>
<circle cx="383.0" cy="675.5" r="3.25"/>
<circle cx="378.5" cy="677.0" r="3.25"/>
<circle cx="287.0" cy="667.9" r="3.25"/>
<circle cx="287.7" cy="677.5" r="3.25"/>
<circle cx="288.3" cy="669.7" r="3.25"/>
<circle cx="289.0" cy="667.8" r="3.25"/>
<circle cx="289.6" cy="668.6" r="3.25"/>
<circle cx="290.3" cy="673.1" r="3.25"/>
<circle cx="290.9" cy="672.1" r="3.25"/>
<circle cx="292.2" cy="668.0" r="3.25"/>
<circle cx="292.9" cy="667.4" r="3.25"/>
<circle cx="293.5" cy="672.2" r="3.25"/>
<circle cx="294.2" cy="675.9" r="3.25"/>
<circle cx="294.8" cy="669.1" r="3.25"/>
<circle cx="295.5" cy="671.2" r="3.25"/>
<circle cx="297.4" cy="671.2" r="3.25"/>
<circle cx="298.1" cy="668.4" r="3.25"/>
<circle cx="298.7" cy="677.4" r="3.25"/>
<circle cx="299.4" cy="676.5" r="3.25"/>
<circle cx="300.0" cy="676.1" r="3.25"/>
<circle cx="300.7" cy="669.9" r="3.25"/>
<circle cx="301.3" cy="667.4" r="3.25"/>
<circle cx="302.0" cy="668.7" r="3.25"/>
<circle cx="302.6" cy="670.8" r="3.25"/>
<circle cx="303.3" cy="674.6" r="3.25"/>
<circle cx="303.9" cy="677.4" r="3.25"/>
<circle cx="304.6" cy="674.2" r="3.25"/>
<circle cx="305.2" cy="668.4" r="3.25"/>
<circle cx="305.9" cy="668.3" r="3.25"/>
<circle cx="306.5" cy="671.8" r="3.25"/>
<circle cx="307.8" cy="674.8" r="3.25"/>
<circle cx="308.5" cy="671.3" r="3.25"/>
<circle cx="309.2" cy="670.6" r="3.25"/>
<circle cx="309.8" cy="676.4" r="3.25"/>
<circle cx="310.5" cy="669.7" r="3.25"/>
<circle cx="311.8" cy="671.2" r="3.25"/>
<circle cx="312.4" cy="671.3" r="3.25"/>
<circle cx="313.1" cy="674.4" r="3.25"/>
<circle cx="313.7" cy="672.0" r="3.25"/>
<circle cx="314.4" cy="668.2" r="3.25"/>
<circle cx="315.7" cy="668.1" r="3.25"/>
<circle cx="316.3" cy="676.5" r="3.25"/>
<circle cx="317.0" cy="671.4" r="3.25"/>
<circle cx="317.6" cy="675.7" r="3.25"/>
<circle cx="318.3" cy="670.0" r="3.25"/>
<circle cx="318.9" cy="667.4" r="3.25"/>
<circle cx="319.6" cy="675.7" r="3.25"/>
<circle cx="320.9" cy="672.0" r="3.25"/>
<circle cx="323.5" cy="671.7" r="3.25"/>
<circle cx="324.1" cy="673.4" r="3.25"/>
<circle cx="324.8" cy="668.8" r="3.25"/>
<circle cx="325.4" cy="670.2" r="3.25"/>
<circle cx="326.1" cy="669.4" r="3.25"/>
<circle cx="326.7" cy="671.9" r="3.25"/>
<circle cx="327.4" cy="669.6" r="3.25"/>
<circle cx="328.0" cy="671.8" r="3.25"/>
<circle cx="328.7" cy="671.9" r="3.25"/>
<circle cx="330.0" cy="670.0" r="3.25"/>
<circle cx="330.6" cy="667.4" r="3.25"/>
<circle cx="331.3" cy="668.2" r="3.25"/>
<circle cx="332.6" cy="671.3" r="3.25"/>
<circle cx="333.2" cy="669.7" r="3.25"/>
<circle cx="333.9" cy="670.1" r="3.25"/>
<circle cx="334.5" cy="669.9" r="3.25"/>
<circle cx="335.2" cy="671.2" r="3.25"/>
<circle cx="337.1" cy="670.1" r="3.25"/>
<circle cx="338.4" cy="668.7" r="3.25"/>
<circle cx="339.1" cy="669.8" r="3.25"/>
<circle cx="339.7" cy="671.1" r="3.25"/>
<circle cx="340.4" cy="674.6" r="3.25"/>
<circle cx="341.0" cy="669.8" r="3.25"/>
<circle cx="342.3" cy="670.8" r="3.25"/>
<circle cx="343.6" cy="670.0" r="3.25"/>
<circle cx="344.3" cy="672.0" r="3.25"/>
<circle cx="344.9" cy="671.7" r="3.25"/>
<circle cx="345.6" cy="673.6" r="3.25"/>
<circle cx="346.2" cy="672.0" r="3.25"/>
<circle cx="346.9" cy="673.0" r="3.25"/>
<circle cx="347.5" cy="669.5" r="3.25"/>
<circle cx="348.2" cy="668.5" r="3.25"/>
<circle cx="348.8" cy="670.6" r="3.25"/>
<circle cx="349.5" cy="671.8" r="3.25"/>
<circle cx="350.1" cy="670.9" r="3.25"/>
<circle cx="350.8" cy="668.0" r="3.25"/>
<circle cx="351.4" cy="677.3" r="3.25"/>
<circle cx="352.1" cy="672.1" r="3.25"/>
<circle cx="353.4" cy="669.7" r="3.25"/>
<circle cx="354.0" cy="676.6" r="3.25"/>
<circle cx="354.7" cy="669.5" r="3.25"/>
<circle cx="355.3" cy="669.0" r="3.25"/>
<circle cx="356.0" cy="668.9" r="3.25"/>
<circle cx="356.6" cy="667.4" r="3.25"/>
<circle cx="357.3" cy="669.5" r="3.25"/>
<circle cx="357.9" cy="669.0" r="3.25"/>
<circle cx="358.6" cy="669.9" r="3.25"/>
<circle cx="359.2" cy="672.2" r="3.25"/>
<circle cx="359.9" cy="672.2" r="3.25"/>
<circle cx="361.2" cy="668.6" r="3.25"/>
<circle cx="361.8" cy="671.2" r="3.25"/>
<circle cx="362.5" cy="667.9" r="3.25"/>
<circle cx="363.8" cy="671.9" r="3.25"/>
<circle cx="364.4" cy="673.6" r="3.25"/>
<circle cx="365.1" cy="671.9" r="3.25"/>
<circle cx="366.4" cy="670.8" r="3.25"/>
<circle cx="367.0" cy="667.6" r="3.25"/>
<circle cx="367.7" cy="669.4" r="3.25"/>
<circle cx="369.0" cy="672.0" r="3.25"/>
<circle cx="369.6" cy="671.3" r="3.25"/>
<circle cx="370.3" cy="671.6" r="3.25"/>
<circle cx="371.6" cy="671.6" r="3.25"/>
<circle cx="372.2" cy="669.0" r="3.25"/>
<circle cx="373.5" cy="671.9" r="3.25"/>
<circle cx="374.2" cy="667.9" r="3.25"/>
<circle cx="375.5" cy="668.5" r="3.25"/>
<circle cx="376.1" cy="668.1" r="3.25"/>
<circle cx="376.8" cy="668.3" r="3.25"/>
<circle cx="377.4" cy="668.8" r="3.25"/>
<circle cx="379.4" cy="668.7" r="3.25"/>
<circle cx="380.7" cy="668.2" r="3.25"/>
<circle cx="382.0" cy="667.4" r="3.25"/>
<circle cx="382.6" cy="667.4" r="3.25"/>
</g>
</g>
<rect x="80.50" y="487.00" width="315.50" height="307.50" fill="none" stroke="#000" stroke-width="1"/>
<line x1="91.50" y1="794.50" x2="352.02" y2="794.50" class="ax"/>
<line x1="91.50" y1="794.50" x2="91.50" y2="804.30" class="ax"/>
<line x1="156.63" y1="794.50" x2="156.63" y2="804.30" class="ax"/>
<line x1="221.76" y1="794.50" x2="221.76" y2="804.30" class="ax"/>
<line x1="286.89" y1="794.50" x2="286.89" y2="804.30" class="ax"/>
<line x1="352.02" y1="794.50" x2="352.02" y2="804.30" class="ax"/>
<text transform="translate(91.50 827.80) scale(1 0.99)" text-anchor="middle" font-size="15.8">0</text>
<text transform="translate(156.63 827.80) scale(1 0.99)" text-anchor="middle" font-size="15.8">100</text>
<text transform="translate(221.76 827.80) scale(1 0.99)" text-anchor="middle" font-size="15.8">200</text>
<text transform="translate(286.89 827.80) scale(1 0.99)" text-anchor="middle" font-size="15.8">300</text>
<text transform="translate(352.02 827.80) scale(1 0.99)" text-anchor="middle" font-size="15.8">400</text>
<line x1="80.50" y1="504.00" x2="80.50" y2="582.90" class="ax"/>
<line x1="70.70" y1="504.00" x2="80.50" y2="504.00" class="ax"/>
<line x1="70.70" y1="543.50" x2="80.50" y2="543.50" class="ax"/>
<line x1="70.70" y1="582.90" x2="80.50" y2="582.90" class="ax"/>
<text transform="translate(58.85 502.00) rotate(-90) scale(1 1.0)" text-anchor="middle" font-size="16.2">0.05</text>
<text transform="translate(58.85 582.70) rotate(-90) scale(1 1.0)" text-anchor="middle" font-size="16.2">−0.05</text>
<line x1="80.50" y1="680.50" x2="80.50" y2="759.50" class="ax"/>
<line x1="70.70" y1="680.50" x2="80.50" y2="680.50" class="ax"/>
<line x1="70.70" y1="720.00" x2="80.50" y2="720.00" class="ax"/>
<line x1="70.70" y1="759.50" x2="80.50" y2="759.50" class="ax"/>
<text transform="translate(58.85 678.90) rotate(-90) scale(1 1.0)" text-anchor="middle" font-size="16.2">0.05</text>
<text transform="translate(58.85 759.80) rotate(-90) scale(1 1.0)" text-anchor="middle" font-size="16.2">−0.05</text>
<text transform="translate(21.90 562.20) rotate(-90) scale(1 1.08)" text-anchor="middle" font-size="18.6">2nd Smallest</text>
<text transform="translate(21.90 720.20) rotate(-90) scale(1 1.08)" text-anchor="middle" font-size="18.6">3rd Smallest</text>
<text transform="translate(238.40 865.40) scale(1 0.99)" text-anchor="middle" font-size="15.8">Index</text>
<text transform="translate(238.60 456.20) scale(1 1)" text-anchor="middle" font-size="18.45" font-weight="bold">Eigenvectors</text>
</g>
<g id="p4">
<g fill="#56B4E9">
<circle cx="814.7" cy="717.4" r="4.5"/>
<circle cx="814.7" cy="719.3" r="4.5"/>
<circle cx="814.7" cy="721.2" r="4.5"/>
<circle cx="814.7" cy="723.1" r="4.5"/>
<circle cx="814.7" cy="725.1" r="4.5"/>
<circle cx="814.7" cy="727.0" r="4.5"/>
<circle cx="814.7" cy="728.9" r="4.5"/>
<circle cx="814.7" cy="739.5" r="4.5"/>
<circle cx="814.7" cy="748.8" r="4.5"/>
<circle cx="814.7" cy="750.2" r="4.5"/>
<circle cx="814.7" cy="751.7" r="4.5"/>
<circle cx="814.7" cy="753.1" r="4.5"/>
<circle cx="814.7" cy="754.6" r="4.5"/>
<circle cx="814.7" cy="756.0" r="4.5"/>
<circle cx="814.7" cy="757.4" r="4.5"/>
<circle cx="814.7" cy="758.9" r="4.5"/>
<circle cx="814.7" cy="760.3" r="4.5"/>
<circle cx="814.7" cy="761.8" r="4.5"/>
<circle cx="814.7" cy="763.2" r="4.5"/>
<circle cx="814.7" cy="764.7" r="4.5"/>
<circle cx="814.7" cy="766.1" r="4.5"/>
<circle cx="814.7" cy="767.5" r="4.5"/>
<circle cx="814.7" cy="769.0" r="4.5"/>
<circle cx="814.7" cy="770.4" r="4.5"/>
<circle cx="814.7" cy="771.9" r="4.5"/>
<circle cx="814.7" cy="773.3" r="4.5"/>
<circle cx="814.7" cy="774.8" r="4.5"/>
<circle cx="814.7" cy="776.2" r="4.5"/>
<circle cx="814.7" cy="777.6" r="4.5"/>
<circle cx="814.7" cy="779.1" r="4.5"/>
<circle cx="814.7" cy="780.5" r="4.5"/>
<circle cx="814.7" cy="782.0" r="4.5"/>
<circle cx="814.7" cy="783.4" r="4.5"/>
</g>
<g fill="#009E73">
<circle cx="814.6" cy="498.3" r="4.5"/>
<circle cx="814.6" cy="499.8" r="4.5"/>
<circle cx="814.6" cy="501.3" r="4.5"/>
<circle cx="814.6" cy="502.8" r="4.5"/>
<circle cx="814.6" cy="504.3" r="4.5"/>
<circle cx="814.6" cy="505.9" r="4.5"/>
<circle cx="814.6" cy="507.4" r="4.5"/>
<circle cx="814.6" cy="508.9" r="4.5"/>
<circle cx="814.6" cy="510.4" r="4.5"/>
<circle cx="814.6" cy="511.9" r="4.5"/>
<circle cx="814.6" cy="513.4" r="4.5"/>
<circle cx="814.6" cy="514.9" r="4.5"/>
<circle cx="814.6" cy="516.4" r="4.5"/>
<circle cx="814.6" cy="517.9" r="4.5"/>
<circle cx="814.6" cy="519.4" r="4.5"/>
<circle cx="814.6" cy="521.0" r="4.5"/>
<circle cx="814.6" cy="522.5" r="4.5"/>
<circle cx="814.6" cy="524.0" r="4.5"/>
<circle cx="814.6" cy="525.5" r="4.5"/>
<circle cx="814.6" cy="527.0" r="4.5"/>
<circle cx="814.6" cy="528.5" r="4.5"/>
<circle cx="814.6" cy="530.0" r="4.5"/>
<circle cx="814.6" cy="531.5" r="4.5"/>
<circle cx="814.6" cy="533.0" r="4.5"/>
<circle cx="814.6" cy="534.5" r="4.5"/>
<circle cx="814.6" cy="536.1" r="4.5"/>
<circle cx="814.6" cy="537.6" r="4.5"/>
<circle cx="814.6" cy="539.1" r="4.5"/>
<circle cx="814.6" cy="540.6" r="4.5"/>
<circle cx="814.6" cy="542.1" r="4.5"/>
<circle cx="814.6" cy="543.6" r="4.5"/>
<circle cx="814.6" cy="555.5" r="4.5"/>
<circle cx="814.6" cy="564.5" r="4.5"/>
<circle cx="814.6" cy="570.5" r="4.5"/>
<circle cx="814.6" cy="575.0" r="4.5"/>
<circle cx="814.6" cy="612.2" r="4.5"/>
</g>
<circle cx="522.6" cy="641.4" r="4.4" fill="#E69F00"/>
<rect x="511.00" y="487.00" width="315.50" height="307.50" fill="none" stroke="#000" stroke-width="1"/>
<line x1="574.90" y1="794.50" x2="790.15" y2="794.50" class="ax"/>
<line x1="574.90" y1="794.50" x2="574.90" y2="804.30" class="ax"/>
<line x1="646.65" y1="794.50" x2="646.65" y2="804.30" class="ax"/>
<line x1="718.40" y1="794.50" x2="718.40" y2="804.30" class="ax"/>
<line x1="790.15" y1="794.50" x2="790.15" y2="804.30" class="ax"/>
<text transform="translate(574.90 827.80) scale(1 0.99)" text-anchor="middle" font-size="15.8">−0.04</text>
<text transform="translate(646.65 827.80) scale(1 0.99)" text-anchor="middle" font-size="15.8">−0.02</text>
<text transform="translate(718.40 827.80) scale(1 0.99)" text-anchor="middle" font-size="15.8">0.00</text>
<text transform="translate(790.15 827.80) scale(1 0.99)" text-anchor="middle" font-size="15.8">0.02</text>
<line x1="511.00" y1="511.90" x2="511.00" y2="771.30" class="ax"/>
<line x1="501.20" y1="771.30" x2="511.00" y2="771.30" class="ax"/>
<line x1="501.20" y1="728.07" x2="511.00" y2="728.07" class="ax"/>
<line x1="501.20" y1="684.83" x2="511.00" y2="684.83" class="ax"/>
<line x1="501.20" y1="641.60" x2="511.00" y2="641.60" class="ax"/>
<line x1="501.20" y1="598.37" x2="511.00" y2="598.37" class="ax"/>
<line x1="501.20" y1="555.13" x2="511.00" y2="555.13" class="ax"/>
<line x1="501.20" y1="511.90" x2="511.00" y2="511.90" class="ax"/>
<text transform="translate(488.60 771.30) rotate(-90) scale(1 1.0)" text-anchor="middle" font-size="16.2">−0.06</text>
<text transform="translate(488.60 684.83) rotate(-90) scale(1 1.0)" text-anchor="middle" font-size="16.2">−0.02</text>
<text transform="translate(488.60 598.37) rotate(-90) scale(1 1.0)" text-anchor="middle" font-size="16.2">0.02</text>
<text transform="translate(488.60 511.90) rotate(-90) scale(1 1.0)" text-anchor="middle" font-size="16.2">0.06</text>
<text transform="translate(668.00 865.20) scale(1 0.99)" text-anchor="middle" font-size="15.9">Second Smallest Eigenvector</text>
<text transform="translate(451.70 640.40) rotate(-90) scale(1 1.0)" text-anchor="middle" font-size="15.8">Third Smallest Eigenvector</text>
<text transform="translate(668.40 455.90) scale(1 1)" text-anchor="middle" font-size="18.45" font-weight="bold">Spectral Clustering</text>
</g>
</svg>
</body></html>
